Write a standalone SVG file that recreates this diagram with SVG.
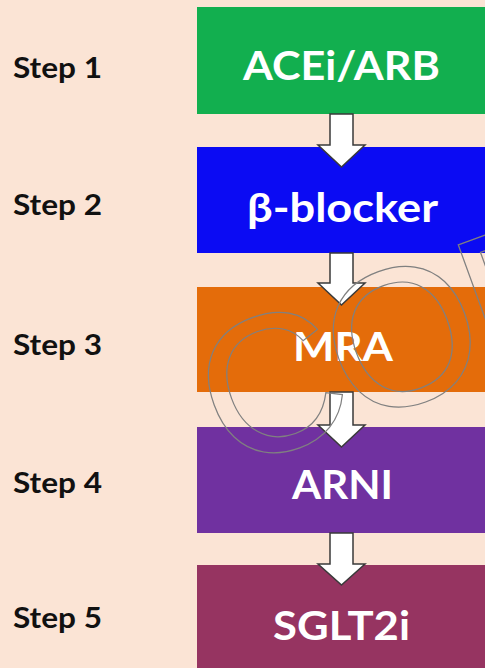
<svg xmlns="http://www.w3.org/2000/svg" width="485" height="668" viewBox="0 0 485 668">
<style>
.box text{font-family:Lato,"Open Sans","Liberation Sans",sans-serif;font-weight:bold;font-size:40px;fill:#FFFFFF;text-anchor:middle}
.step{font-family:Lato,"Open Sans","Liberation Sans",sans-serif;font-weight:bold;font-size:28px;fill:#111111}
.arrow{fill:#FFFFFF;stroke:#3A3A3A;stroke-width:1.5;stroke-linejoin:miter}
.wm{font-family:"Liberation Sans",Arial,sans-serif;font-size:196px;letter-spacing:-8px;fill:none;stroke:#808080;stroke-width:1.2}
</style>
<rect x="0" y="0" width="485" height="668" fill="#FBE4D5"/>
<g id="labels">
<text class="step" x="13" y="78" textLength="89" lengthAdjust="spacingAndGlyphs">Step 1</text>
<text class="step" x="13" y="215" textLength="89" lengthAdjust="spacingAndGlyphs">Step 2</text>
<text class="step" x="13" y="355" textLength="89" lengthAdjust="spacingAndGlyphs">Step 3</text>
<text class="step" x="13" y="493" textLength="89" lengthAdjust="spacingAndGlyphs">Step 4</text>
<text class="step" x="13" y="628" textLength="89" lengthAdjust="spacingAndGlyphs">Step 5</text>
</g>
<g id="node1" class="box"><rect x="197" y="7" width="292" height="107" fill="#12AF4F"/><text x="341.5" y="80" textLength="197" lengthAdjust="spacingAndGlyphs">ACEi/ARB</text></g>
<g id="node2" class="box"><rect x="197" y="147" width="292" height="106" fill="#0B0BF3"/><text x="342.5" y="222" textLength="191" lengthAdjust="spacingAndGlyphs">β-blocker</text></g>
<g id="node3" class="box"><rect x="197" y="287" width="292" height="105" fill="#E46C0A"/><text x="343" y="361" textLength="100" lengthAdjust="spacingAndGlyphs">MRA</text></g>
<g id="node4" class="box"><rect x="197" y="427" width="292" height="106" fill="#7031A0"/><text x="342.5" y="499" textLength="101" lengthAdjust="spacingAndGlyphs">ARNI</text></g>
<g id="node5" class="box"><rect x="197" y="565" width="292" height="110" fill="#963461"/><text x="341.5" y="640" textLength="137" lengthAdjust="spacingAndGlyphs">SGLT2i</text></g>
<g id="connectors">
<path class="arrow" d="M330,114 H353 V145 H365 L341.5,167 L318,145 H330 Z"/>
<path class="arrow" d="M330,253 H353 V283 H365 L341.5,305 L318,283 H330 Z"/>
<path class="arrow" d="M330,392 H353 V425 H365 L341.5,447 L318,425 H330 Z"/>
<path class="arrow" d="M330,533 H353 V564 H365 L341.5,585 L318,564 H330 Z"/>
</g>
<text class="wm" x="228" y="472" transform="rotate(-20 228 472)">COPY</text>
</svg>
